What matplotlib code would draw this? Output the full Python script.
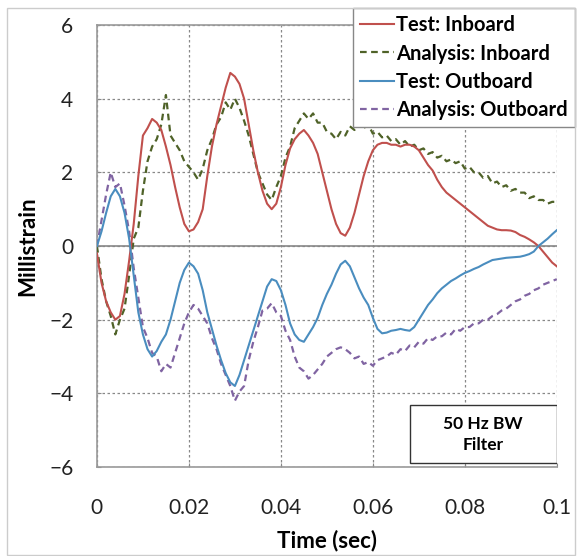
import numpy as np
import matplotlib
matplotlib.use('Agg')
import matplotlib.pyplot as plt
from matplotlib.patches import Rectangle

plt.rcParams['font.family'] = ['Lato', 'DejaVu Sans']

# sample times (sec), 1 ms spacing
time = np.round(np.arange(101) * 0.001, 3)

test_inboard = [
    -0.2, -1.0, -1.5, -1.8, -2.0, -1.9, -1.3, -0.4, 0.6, 1.9,
    3.0, 3.2, 3.45, 3.35, 3.15, 2.7, 2.2, 1.6, 1.05, 0.6,
    0.4, 0.45, 0.65, 1.0, 1.9, 2.7, 3.3, 3.8, 4.3, 4.7,
    4.6, 4.4, 4.0, 3.3, 2.6, 2.0, 1.5, 1.15, 1.0, 1.15,
    1.6, 2.2, 2.65, 2.9, 3.05, 3.15, 3.0, 2.8, 2.5, 2.0,
    1.5, 1.0, 0.6, 0.35, 0.28, 0.5, 0.9, 1.4, 1.9, 2.3,
    2.6, 2.75, 2.8, 2.8, 2.75, 2.75, 2.7, 2.75, 2.75, 2.7,
    2.6, 2.4, 2.2, 2.05, 1.8, 1.6, 1.45, 1.35, 1.25, 1.15,
    1.05, 0.95, 0.85, 0.75, 0.65, 0.55, 0.5, 0.45, 0.43, 0.43,
    0.42, 0.38, 0.3, 0.25, 0.18, 0.1, 0.0, -0.15, -0.3, -0.45,
    -0.55]

analysis_inboard = [
    0.0, -0.9, -1.5, -1.9, -2.4, -2.0, -1.7, -0.8, 0.2, 0.5,
    1.5, 2.3, 2.7, 2.9, 3.3, 4.1, 3.0, 2.8, 2.6, 2.3,
    2.15, 2.0, 1.8, 2.1, 2.6, 2.9, 3.3, 3.5, 3.9, 3.7,
    4.0, 3.75, 3.4, 3.0, 2.5, 2.0, 1.7, 1.4, 1.25, 1.6,
    1.9, 2.4, 2.7, 3.2, 3.4, 3.6, 3.45, 3.6, 3.35, 3.35,
    3.1, 3.05, 2.9, 3.1, 3.0, 3.25, 3.15, 3.35, 3.2, 3.3,
    3.05, 3.1, 2.95, 3.0, 2.85, 2.9, 2.75, 2.85, 2.7, 2.75,
    2.6, 2.65, 2.5, 2.55, 2.4, 2.45, 2.3, 2.35, 2.25, 2.3,
    2.1, 2.15, 2.0, 2.0, 1.85, 1.9, 1.7, 1.75, 1.6, 1.65,
    1.5, 1.55, 1.45, 1.45, 1.3, 1.35, 1.25, 1.25, 1.15, 1.2,
    1.2]

test_outboard = [
    0.0, 0.4, 0.9, 1.35, 1.55, 1.35, 0.9, 0.2, -0.8, -1.8,
    -2.4, -2.8, -3.0, -2.85, -2.6, -2.4, -2.0, -1.5, -1.0, -0.65,
    -0.45, -0.55, -0.75, -1.2, -1.8, -2.25, -2.7, -3.1, -3.45, -3.7,
    -3.8, -3.5, -3.1, -2.7, -2.3, -1.9, -1.5, -1.1, -0.9, -0.95,
    -1.2, -1.6, -2.1, -2.4, -2.55, -2.6, -2.4, -2.2, -1.95, -1.6,
    -1.3, -1.05, -0.75, -0.5, -0.4, -0.55, -0.85, -1.15, -1.4, -1.6,
    -1.95, -2.25, -2.37, -2.35, -2.3, -2.28, -2.25, -2.28, -2.3, -2.2,
    -2.0, -1.8, -1.6, -1.45, -1.28, -1.15, -1.05, -0.95, -0.88, -0.8,
    -0.73, -0.68, -0.62, -0.57, -0.5, -0.44, -0.38, -0.36, -0.34, -0.32,
    -0.31, -0.3, -0.29, -0.26, -0.22, -0.15, 0.0, 0.1, 0.2, 0.32,
    0.43]

analysis_outboard = [
    0.0, 0.7, 1.4, 2.0, 1.6, 1.7, 1.1, 0.4, -0.6, -1.4,
    -2.2, -2.5, -2.9, -3.0, -3.4, -3.2, -3.3, -2.9, -2.5, -2.1,
    -1.8, -1.6, -1.7, -1.9, -2.1, -2.5, -2.8, -3.2, -3.5, -3.8,
    -4.2, -3.95, -3.8, -3.1, -2.6, -2.2, -1.75, -1.7, -1.55, -1.8,
    -1.9, -2.3, -2.55, -3.0, -3.3, -3.4, -3.6, -3.5, -3.35, -3.2,
    -3.0, -2.9, -2.8, -2.75, -2.8, -2.9, -3.05, -3.0, -3.2, -3.15,
    -3.25, -3.1, -3.05, -3.0, -2.9, -2.95, -2.8, -2.85, -2.7, -2.75,
    -2.6, -2.65, -2.5, -2.55, -2.45, -2.45, -2.35, -2.4, -2.25, -2.3,
    -2.2, -2.2, -2.1, -2.1, -2.0, -2.0, -1.9, -1.85, -1.75, -1.7,
    -1.6, -1.5, -1.45, -1.35, -1.3, -1.2, -1.15, -1.05, -1.0, -0.95,
    -0.9]

xticks = [0, 0.02, 0.04, 0.06, 0.08, 0.1]
xtick_labels = ['0', '0.02', '0.04', '0.06', '0.08', '0.1']
yticks = [-6, -4, -2, 0, 2, 4, 6]

fig = plt.figure(figsize=(5.77, 5.56), dpi=100)
ax = fig.add_axes([0.168, 0.160, 0.797, 0.795])

ax.plot(time, test_inboard, color='#C0504D', lw=1.5, label='Test: Inboard', zorder=4)
ax.plot(time, analysis_inboard, color='#4F6228', lw=1.6, dashes=(3, 2),
        label='Analysis: Inboard', zorder=3)
ax.plot(time, test_outboard, color='#4A8DBF', lw=1.5, label='Test: Outboard', zorder=4)
ax.plot(time, analysis_outboard, color='#8064A2', lw=1.6, dashes=(3, 2),
        label='Analysis: Outboard', zorder=3)

ax.set_xlim(0, 0.1)
ax.set_ylim(-6, 6)
ax.set_xticks(xticks)
ax.set_xticklabels(xtick_labels)
ax.set_yticks(yticks)
ax.grid(True, color='#888888', ls=(0, (2, 2)), lw=0.9)
ax.axhline(0, color='#888888', lw=1.2, zorder=2)
ax.tick_params(direction='in', length=3, color='#888888', labelsize=15,
               labelcolor='#222222')
ax.tick_params(axis='x', pad=22)
ax.tick_params(axis='y', pad=17)
for s in ['left', 'bottom', 'top']:
    ax.spines[s].set_color('#999999')
    ax.spines[s].set_linewidth(1.2)
ax.spines['right'].set_visible(False)

ax.set_xlabel('Time (sec)', fontsize=16, fontweight='bold', labelpad=9)
ax.set_ylabel('Millistrain', fontsize=16, fontweight='bold', labelpad=8)

leg = ax.legend(loc='upper right', bbox_to_anchor=(575 / 577, 1 - 8 / 556),
                bbox_transform=fig.transFigure, borderaxespad=0,
                fancybox=False, framealpha=1, edgecolor='#888888',
                handlelength=1.7, handletextpad=0.1, labelspacing=0.42,
                borderpad=0.35, prop={'size': 14.5, 'weight': 'bold'})
leg.get_frame().set_linewidth(1.0)
leg.set_zorder(10)

# filter note box
ax.add_patch(Rectangle((0.68, 0.009), 0.32, 0.131, transform=ax.transAxes,
                       facecolor='white', edgecolor='#333333', lw=1.0, zorder=9))
ax.text(0.84, 0.0745, '50 Hz BW\nFilter', transform=ax.transAxes, ha='center',
        va='center', fontsize=12.5, fontweight='bold', linespacing=1.4, zorder=10)

# outer chart border
fig.patches.append(Rectangle((7 / 577, 1 / 556), 568 / 577, 547 / 556,
                             transform=fig.transFigure, fill=False,
                             edgecolor='#cccccc', lw=1.0))

fig.savefig('out.png', dpi=100)
